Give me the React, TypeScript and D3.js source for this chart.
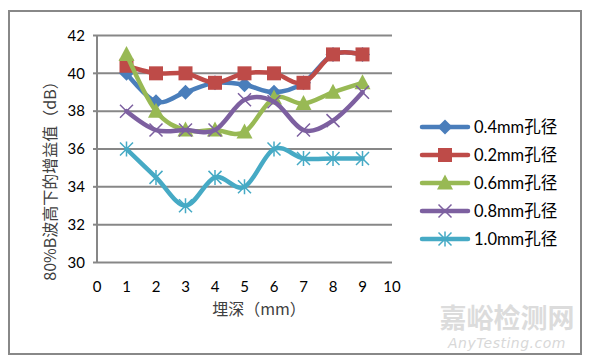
import { useEffect, useRef } from 'react';
import * as d3 from 'd3';

const depths = [1, 2, 3, 4, 5, 6, 7, 8, 9];
const s04 = [40, 38.5, 39, 39.5, 39.4, 39, 39.5, 41, 41];
const s02 = [40.4, 40, 40, 39.5, 40, 40, 39.5, 41, 41];
const s06 = [41, 38, 37, 37, 36.9, 38.7, 38.4, 39, 39.5];
const s08 = [38, 37, 37, 37, 38.6, 38.5, 37, 37.5, 39];
const s10 = [36, 34.5, 33, 34.5, 34, 36, 35.5, 35.5, 35.5];
const xTicks = [0, 1, 2, 3, 4, 5, 6, 7, 8, 9, 10];
const yTicks = [30, 32, 34, 36, 38, 40, 42];

const series = [
  { name: '0.4mm孔径', values: s04, color: '#4A7EBB', marker: 'diamond' },
  { name: '0.2mm孔径', values: s02, color: '#BE4B48', marker: 'square' },
  { name: '0.6mm孔径', values: s06, color: '#98B954', marker: 'triangle' },
  { name: '0.8mm孔径', values: s08, color: '#7D60A0', marker: 'x' },
  { name: '1.0mm孔径', values: s10, color: '#46AAC5', marker: 'star' },
];

const FONT = 'Lato, "Noto Sans", sans-serif';
const CJK = '"Noto Sans CJK SC", sans-serif';

function drawMarker(g: d3.Selection<SVGGElement, unknown, null, undefined>, kind: string, color: string) {
  if (kind === 'diamond') {
    g.append('path').attr('d', 'M0,-7.5 L7.5,0 L0,7.5 L-7.5,0 Z').attr('fill', color);
  } else if (kind === 'square') {
    g.append('rect').attr('x', -7).attr('y', -7).attr('width', 14).attr('height', 14).attr('fill', color);
  } else if (kind === 'triangle') {
    g.append('path').attr('d', 'M0,-8.5 L8,6.5 L-8,6.5 Z').attr('fill', color);
  } else if (kind === 'x') {
    g.append('path').attr('d', 'M-6.5,-6.5 L6.5,6.5 M-6.5,6.5 L6.5,-6.5').attr('stroke', color).attr('stroke-width', 1.5);
  } else {
    g.append('path').attr('d', 'M-6.5,-6.5 L6.5,6.5 M-6.5,6.5 L6.5,-6.5 M0,-7.5 L0,7.5').attr('stroke', color).attr('stroke-width', 1.5);
  }
}

export default function App() {
  const ref = useRef<SVGSVGElement>(null);

  useEffect(() => {
    if (!ref.current) return;
    const svg = d3.select(ref.current);
    svg.selectAll('*').remove();

    const x = d3.scaleLinear().domain([0, 10]).range([97, 392]);
    const y = d3.scaleLinear().domain([30, 42]).range([262.5, 35.5]);

    // chart area border
    svg.append('rect').attr('x', 9).attr('y', 11).attr('width', 572).attr('height', 343)
      .attr('fill', 'white').attr('stroke', '#888').attr('stroke-width', 2);

    // gridlines
    const grid = svg.append('g');
    yTicks.forEach(t => {
      grid.append('line').attr('x1', x(0)).attr('x2', x(10)).attr('y1', y(t)).attr('y2', y(t))
        .attr('stroke', '#878787').attr('stroke-width', 2);
      grid.append('line').attr('x1', x(0) - 4).attr('x2', x(0)).attr('y1', y(t)).attr('y2', y(t))
        .attr('stroke', '#878787').attr('stroke-width', 2);
    });
    grid.append('line').attr('x1', x(0)).attr('x2', x(0)).attr('y1', y(42)).attr('y2', y(30))
      .attr('stroke', '#878787').attr('stroke-width', 2);

    // y tick labels
    svg.append('g').selectAll('text').data(yTicks).enter().append('text')
      .attr('x', 85).attr('y', d => y(d)).attr('dy', '0.35em').attr('text-anchor', 'end')
      .attr('font-family', FONT).attr('font-size', 15).attr('fill', '#000')
      .text(d => d);

    // x tick labels
    svg.append('g').selectAll('text').data(xTicks).enter().append('text')
      .attr('x', d => x(d)).attr('y', 292).attr('text-anchor', 'middle')
      .attr('font-family', FONT).attr('font-size', 15).attr('fill', '#000')
      .text(d => d);

    // axis titles
    svg.append('text').attr('x', 259).attr('y', 315).attr('text-anchor', 'middle')
      .attr('font-family', CJK).attr('font-size', 16).attr('fill', '#404040')
      .text('埋深（mm）');
    svg.append('text').attr('transform', 'translate(56,177) rotate(-90)').attr('text-anchor', 'middle')
      .attr('font-family', CJK).attr('font-size', 16).attr('fill', '#404040')
      .text('80%B波高下的增益值（dB）');

    // series
    const line = d3.line<number>()
      .x((_, i) => x(depths[i]))
      .y(d => y(d))
      .curve(d3.curveCatmullRom.alpha(0));

    series.forEach(s => {
      const g = svg.append('g');
      g.append('path').attr('d', line(s.values) || '').attr('fill', 'none')
        .attr('stroke', s.color).attr('stroke-width', 4.5).attr('stroke-linecap', 'round').attr('stroke-linejoin', 'round');
      s.values.forEach((v, i) => {
        const m = g.append('g').attr('transform', `translate(${x(depths[i])},${y(v)})`);
        drawMarker(m, s.marker, s.color);
      });
    });

    // legend
    series.forEach((s, i) => {
      const ly = 127 + i * 28;
      const g = svg.append('g');
      g.append('line').attr('x1', 422).attr('x2', 468).attr('y1', ly).attr('y2', ly)
        .attr('stroke', s.color).attr('stroke-width', 4.5).attr('stroke-linecap', 'round');
      const m = g.append('g').attr('transform', `translate(445,${ly})`);
      drawMarker(m, s.marker, s.color);
      g.append('text').attr('x', 474).attr('y', ly).attr('dy', '0.35em')
        .attr('font-family', `${FONT}, ${CJK}`).attr('font-size', 16.5).attr('fill', '#000')
        .text(s.name);
    });

    // watermark
    svg.append('text').attr('x', 507).attr('y', 328).attr('text-anchor', 'middle')
      .attr('font-family', CJK).attr('font-size', 27).attr('font-weight', 'bold').attr('fill', '#dcdcdc')
      .text('嘉峪检测网');
    svg.append('text').attr('x', 507).attr('y', 348).attr('text-anchor', 'middle')
      .attr('font-family', 'DejaVu Sans, sans-serif').attr('font-style', 'italic').attr('font-size', 14)
      .attr('fill', '#d8d8d8').attr('letter-spacing', 0.5)
      .text('AnyTesting.com');
  }, []);

  return (
    <svg ref={ref} width={589} height={364}
      style={{ position: 'absolute', left: 0, top: 0, background: 'white' }} />
  );
}
